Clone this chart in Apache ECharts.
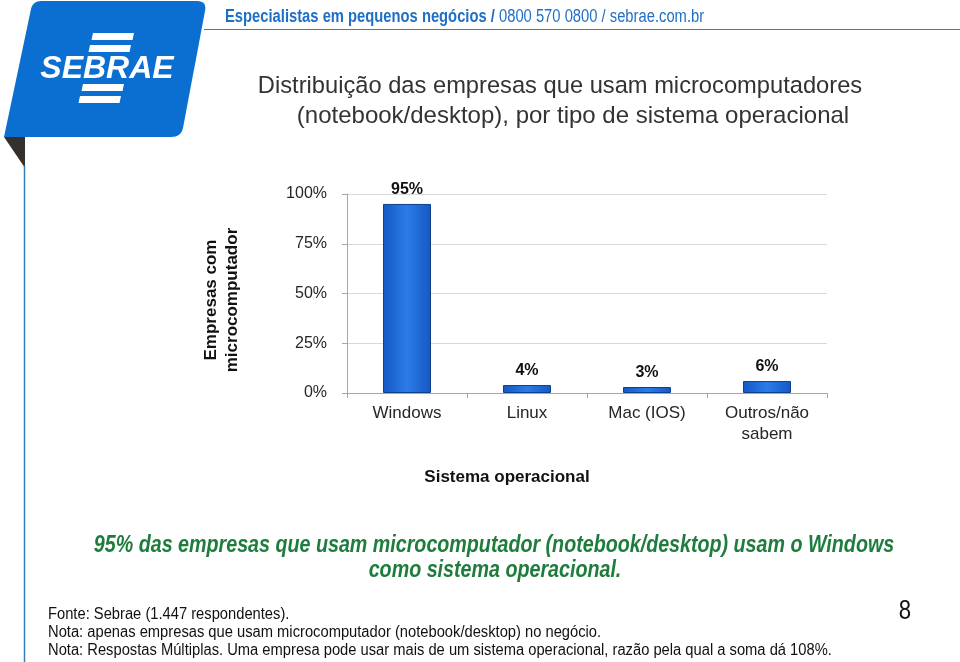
<!DOCTYPE html>
<html>
<head>
<meta charset="utf-8">
<script src="https://cdn.jsdelivr.net/npm/echarts@6/dist/echarts.min.js"></script>
<style>html,body{margin:0;padding:0;background:#fff}#c{width:960px;height:662px}</style>
</head>
<body>
<div id="c"></div>
<script>
const categories = ['Windows', 'Linux', 'Mac (IOS)', 'Outros/não\nsabem'];
const values = [95, 4, 3, 6];
const valueLabels = ['95%', '4%', '3%', '6%'];
const yMin = 0, yMax = 100, yInterval = 25;

const FONT = 'Liberation Sans, Arial, sans-serif';
const NARROW = 0.82;
const BLUE = '#1f6fc5';

function stripe(xl, y1, w, y2) {
  const s = 0.21 * (y2 - y1);
  return { type: 'polygon', shape: { points: [[xl, y1], [xl + w, y1], [xl + w - s, y2], [xl - s, y2]] }, style: { fill: '#fff' } };
}
function roundedPoly(segs) {
  const pts = [];
  segs.forEach(s => {
    if (s.length === 1) { pts.push(s[0]); return; }
    const [a, c, b] = s;
    for (let i = 0; i <= 8; i++) {
      const t = i / 8, u = 1 - t;
      pts.push([u * u * a[0] + 2 * u * t * c[0] + t * t * b[0], u * u * a[1] + 2 * u * t * c[1] + t * t * b[1]]);
    }
  });
  return pts;
}
const logoPts = roundedPoly([
  [[31, 9], [33, 1], [41, 1]],
  [[197, 1], [207, 1], [205, 11]],
  [[183, 128], [181, 137], [171, 137]],
  [[4, 137]]
]);

const chart = echarts.init(document.getElementById('c'), null, { renderer: 'canvas' });
chart.setOption({
  backgroundColor: '#fff',
  animation: false,
  grid: { left: 347, top: 194, width: 480, height: 199, containLabel: false },
  xAxis: {
    type: 'category',
    data: categories,
    axisLine: { show: true, lineStyle: { color: '#a6a6a6', width: 1 } },
    axisTick: { show: true, length: 5, lineStyle: { color: '#a6a6a6' } },
    axisLabel: { fontFamily: FONT, fontSize: 17, color: '#262626', margin: 10, lineHeight: 21 }
  },
  yAxis: {
    type: 'value',
    min: yMin, max: yMax, interval: yInterval,
    axisLine: { show: true, lineStyle: { color: '#a6a6a6', width: 1 } },
    axisTick: { show: true, length: 5, lineStyle: { color: '#a6a6a6' } },
    splitLine: { show: true, lineStyle: { color: '#d9d9d9', width: 1 } },
    axisLabel: { fontFamily: FONT, fontSize: 16, color: '#262626', margin: 20, formatter: '{value}%' }
  },
  series: [{
    type: 'bar',
    data: values,
    barWidth: '40%',
    itemStyle: {
      color: new echarts.graphic.LinearGradient(0, 0, 1, 0, [
        { offset: 0, color: '#1558c4' },
        { offset: 0.5, color: '#2a7ce8' },
        { offset: 1, color: '#1558c4' }
      ]),
      borderColor: '#0e3f8e',
      borderWidth: 1
    },
    label: {
      show: true, position: 'top', distance: 6,
      fontFamily: FONT, fontSize: 16, fontWeight: 'bold', color: '#111',
      formatter: p => valueLabels[p.dataIndex]
    }
  }],
  graphic: [
    { type: 'polygon', shape: { points: logoPts }, style: { fill: '#0a6fd1' } },
    { type: 'polygon', shape: { points: [[4, 137], [25, 137], [25, 168]] }, style: { fill: '#35302d' } },
    stripe(93, 33, 41, 40),
    stripe(90, 45, 41, 52),
    stripe(83, 84, 41, 91),
    stripe(80, 96, 41, 103),
    { type: 'text', x: 107, y: 69, style: { text: 'SEBRAE', fill: '#fff', font: 'italic bold 32px ' + FONT, align: 'center', verticalAlign: 'middle' } },
    { type: 'line', shape: { x1: 24.5, y1: 166, x2: 24.5, y2: 662 }, style: { stroke: '#2f7fbf', lineWidth: 1.5 } },
    { type: 'line', shape: { x1: 204, y1: 29.5, x2: 960, y2: 29.5 }, style: { stroke: '#2f7fbf', lineWidth: 1 } },
    { type: 'text', x: 225, y: 17, scaleX: NARROW, style: { text: '{b|Especialistas em pequenos negócios /} {n|0800 570 0800 / sebrae.com.br}', font: '18px ' + FONT, verticalAlign: 'middle', rich: { b: { fontFamily: FONT, fontSize: 18, fontWeight: 'bold', fill: BLUE }, n: { fontFamily: FONT, fontSize: 18, fill: BLUE } } } },
    { type: 'text', x: 560, y: 86, style: { text: 'Distribuição das empresas que usam microcomputadores', font: '23.7px ' + FONT, fill: '#333', align: 'center', verticalAlign: 'middle' } },
    { type: 'text', x: 573, y: 116, style: { text: '(notebook/desktop), por tipo de sistema operacional', font: '24px ' + FONT, fill: '#333', align: 'center', verticalAlign: 'middle' } },
    { type: 'text', x: 222, y: 300, rotation: Math.PI / 2, style: { text: 'Empresas com\nmicrocomputador', font: 'bold 17px ' + FONT, fill: '#111', align: 'center', verticalAlign: 'middle', lineHeight: 21 } },
    { type: 'text', x: 507, y: 477, style: { text: 'Sistema operacional', font: 'bold 17px ' + FONT, fill: '#111', align: 'center', verticalAlign: 'middle' } },
    { type: 'text', x: 494, y: 545, scaleX: NARROW, style: { text: '95% das empresas que usam microcomputador (notebook/desktop) usam o Windows', font: 'italic bold 24px ' + FONT, fill: '#1e7d3c', align: 'center', verticalAlign: 'middle' } },
    { type: 'text', x: 495, y: 570, scaleX: NARROW, style: { text: 'como sistema operacional.', font: 'italic bold 24px ' + FONT, fill: '#1e7d3c', align: 'center', verticalAlign: 'middle' } },
    { type: 'text', x: 48, y: 615, scaleX: 0.92, style: { text: 'Fonte: Sebrae (1.447 respondentes).', font: '16px ' + FONT, fill: '#111', verticalAlign: 'middle' } },
    { type: 'text', x: 48, y: 633, scaleX: 0.92, style: { text: 'Nota: apenas empresas que usam microcomputador (notebook/desktop) no negócio.', font: '16px ' + FONT, fill: '#111', verticalAlign: 'middle' } },
    { type: 'text', x: 48, y: 651, scaleX: 0.92, style: { text: 'Nota: Respostas Múltiplas. Uma empresa pode usar mais de um sistema operacional, razão pela qual a soma dá 108%.', font: '16px ' + FONT, fill: '#111', verticalAlign: 'middle' } },
    { type: 'text', x: 905, y: 612, scaleX: NARROW, style: { text: '8', font: '27px ' + FONT, fill: '#111', align: 'center', verticalAlign: 'middle' } }
  ]
});
</script>
</body>
</html>
